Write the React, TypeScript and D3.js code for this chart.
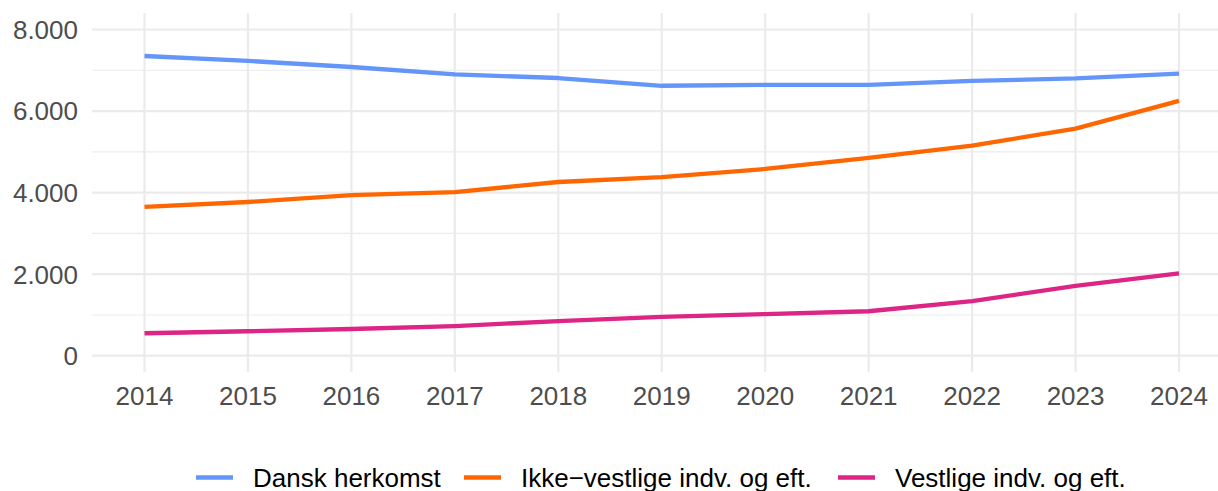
import React from "react";
import * as d3 from "d3";

const years = [2014, 2015, 2016, 2017, 2018, 2019, 2020, 2021, 2022, 2023, 2024];
const dansk = [7350, 7230, 7080, 6900, 6810, 6620, 6640, 6640, 6740, 6800, 6920];
const ikkeVestlige = [3650, 3770, 3940, 4010, 4260, 4380, 4580, 4850, 5150, 5570, 6250];
const vestlige = [550, 600, 655, 725, 850, 950, 1020, 1090, 1340, 1710, 2020];

const seriesNames = ["Dansk herkomst", "Ikke\u2212vestlige indv. og eft.", "Vestlige indv. og eft."];
const seriesColors = ["#6495F9", "#FF6600", "#DD2585"];
const seriesValues = [dansk, ikkeVestlige, vestlige];

const yTicks = [0, 2000, 4000, 6000, 8000];
const yMinor = [1000, 3000, 5000, 7000];

const W = 1218;
const H = 491;
const font = "'Liberation Sans', Arial, Helvetica, sans-serif";

export default function App() {
  const panelLeft = 92;
  const panelRight = 1218;
  const panelTop = 13;
  const panelBottom = 372;
  const x = d3.scaleLinear().domain([2014, 2024]).range([144.5, 1179]);
  const y = d3.scaleLinear().domain([0, 8000]).range([355.7, 29.5]);
  const fmt = (v: number) => d3.format(",")(v).replace(/,/g, ".");
  const line = d3
    .line<number>()
    .x((_, i) => x(years[i]))
    .y((d) => y(d));

  const legendItems = [
    { key: 196, text: 253 },
    { key: 464, text: 521 },
    { key: 838, text: 895 },
  ];

  return (
    <svg
      width={W}
      height={H}
      style={{ position: "absolute", left: 0, top: 0, background: "#fff" }}
      fontFamily={font}
    >
      <rect width={W} height={H} fill="#fff" />
      {yMinor.map((v) => (
        <line key={"mn" + v} x1={panelLeft} x2={panelRight} y1={y(v)} y2={y(v)} stroke="#EBEBEB" strokeWidth={1.1} />
      ))}
      {yTicks.map((v) => (
        <line key={"mj" + v} x1={panelLeft} x2={panelRight} y1={y(v)} y2={y(v)} stroke="#EBEBEB" strokeWidth={2.2} />
      ))}
      {years.map((yr) => (
        <line key={"vx" + yr} x1={x(yr)} x2={x(yr)} y1={panelTop} y2={panelBottom} stroke="#EBEBEB" strokeWidth={2.2} />
      ))}
      {yTicks.map((v) => (
        <text key={"yl" + v} x={78} y={y(v)} dy="0.36em" textAnchor="end" fontSize={26} fill="#4D4D4D">
          {fmt(v)}
        </text>
      ))}
      {years.map((yr) => (
        <text key={"xl" + yr} x={x(yr)} y={405} textAnchor="middle" fontSize={26} fill="#4D4D4D">
          {yr}
        </text>
      ))}
      {seriesValues.map((vals, i) => (
        <path
          key={"s" + i}
          d={line(vals) || ""}
          fill="none"
          stroke={seriesColors[i]}
          strokeWidth={4.3}
          strokeLinejoin="round"
          strokeLinecap="butt"
        />
      ))}
      {legendItems.map((it, i) => (
        <g key={"lg" + i}>
          <line x1={it.key} x2={it.key + 37} y1={477.5} y2={477.5} stroke={seriesColors[i]} strokeWidth={4.3} />
          <text x={it.text} y={486.7} fontSize={26} fill="#000">
            {seriesNames[i]}
          </text>
        </g>
      ))}
    </svg>
  );
}
